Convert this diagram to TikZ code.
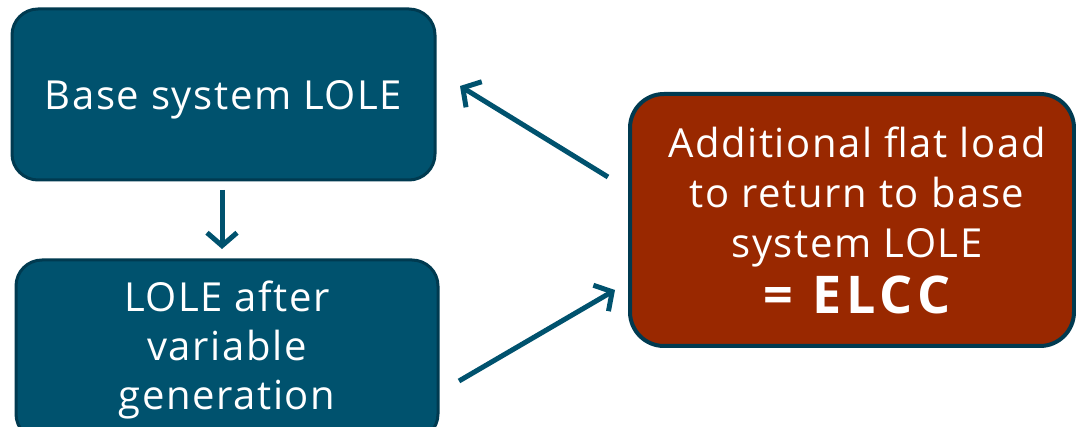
\documentclass[tikz,border=0pt]{standalone}
\usepackage{fontspec}
\setmainfont{Open Sans}[LetterSpace=4]
\usetikzlibrary{arrows.meta}
\definecolor{tealfill}{RGB}{0,82,110}
\definecolor{tealedge}{RGB}{0,58,80}
\definecolor{redfill}{RGB}{153,40,0}
\begin{document}
\begin{tikzpicture}[x=1pt,y=-1pt,
  bluebox/.style={draw=tealedge, line width=3pt, fill=tealfill, rounded corners=26pt,
    text=white, align=center, inner sep=0pt,
    font=\fontsize{40}{49}\selectfont},
  redbox/.style={draw=tealedge, line width=4pt, fill=redfill, rounded corners=34pt,
    text=white, align=center, inner sep=0pt,
    font=\fontsize{40}{50}\selectfont},
  conn/.style={draw=tealfill, line width=5pt,
    -{Straight Barb[length=13pt,width=30pt,line width=5pt]}}
]
\useasboundingbox (0,0) rectangle (1076,427);
\clip (0,0) rectangle (1076,427);
\node[bluebox, minimum width=423pt, minimum height=171pt] (base) at (223.5,94.5) {\raisebox{0pt}[31pt][0pt]{Base system LOLE}};
\node[bluebox, minimum width=422pt, minimum height=180pt] (after) at (227,350) {LOLE after\\variable\\generation};
\node[redbox, minimum width=444pt, minimum height=252pt] (elcc) at (852,220)
  {\hspace*{10pt}Additional flat load\\\hspace*{10pt}to return to base\\\hspace*{10pt}system LOLE\\[6pt]\hspace*{10pt}{\fontsize{52}{56}\selectfont\bfseries\addfontfeatures{LetterSpace=10}= ELCC}};
\coordinate (d1) at (222,190);
\coordinate (d2) at (222,249);
\coordinate (u1) at (608,177);
\coordinate (u2) at (460,86);
\coordinate (l1) at (459,381);
\coordinate (l2) at (615,290);
\draw[conn] (d1) -- (d2);
\draw[conn] (u1) -- (u2);
\draw[conn] (l1) -- (l2);
\end{tikzpicture}
\end{document}
